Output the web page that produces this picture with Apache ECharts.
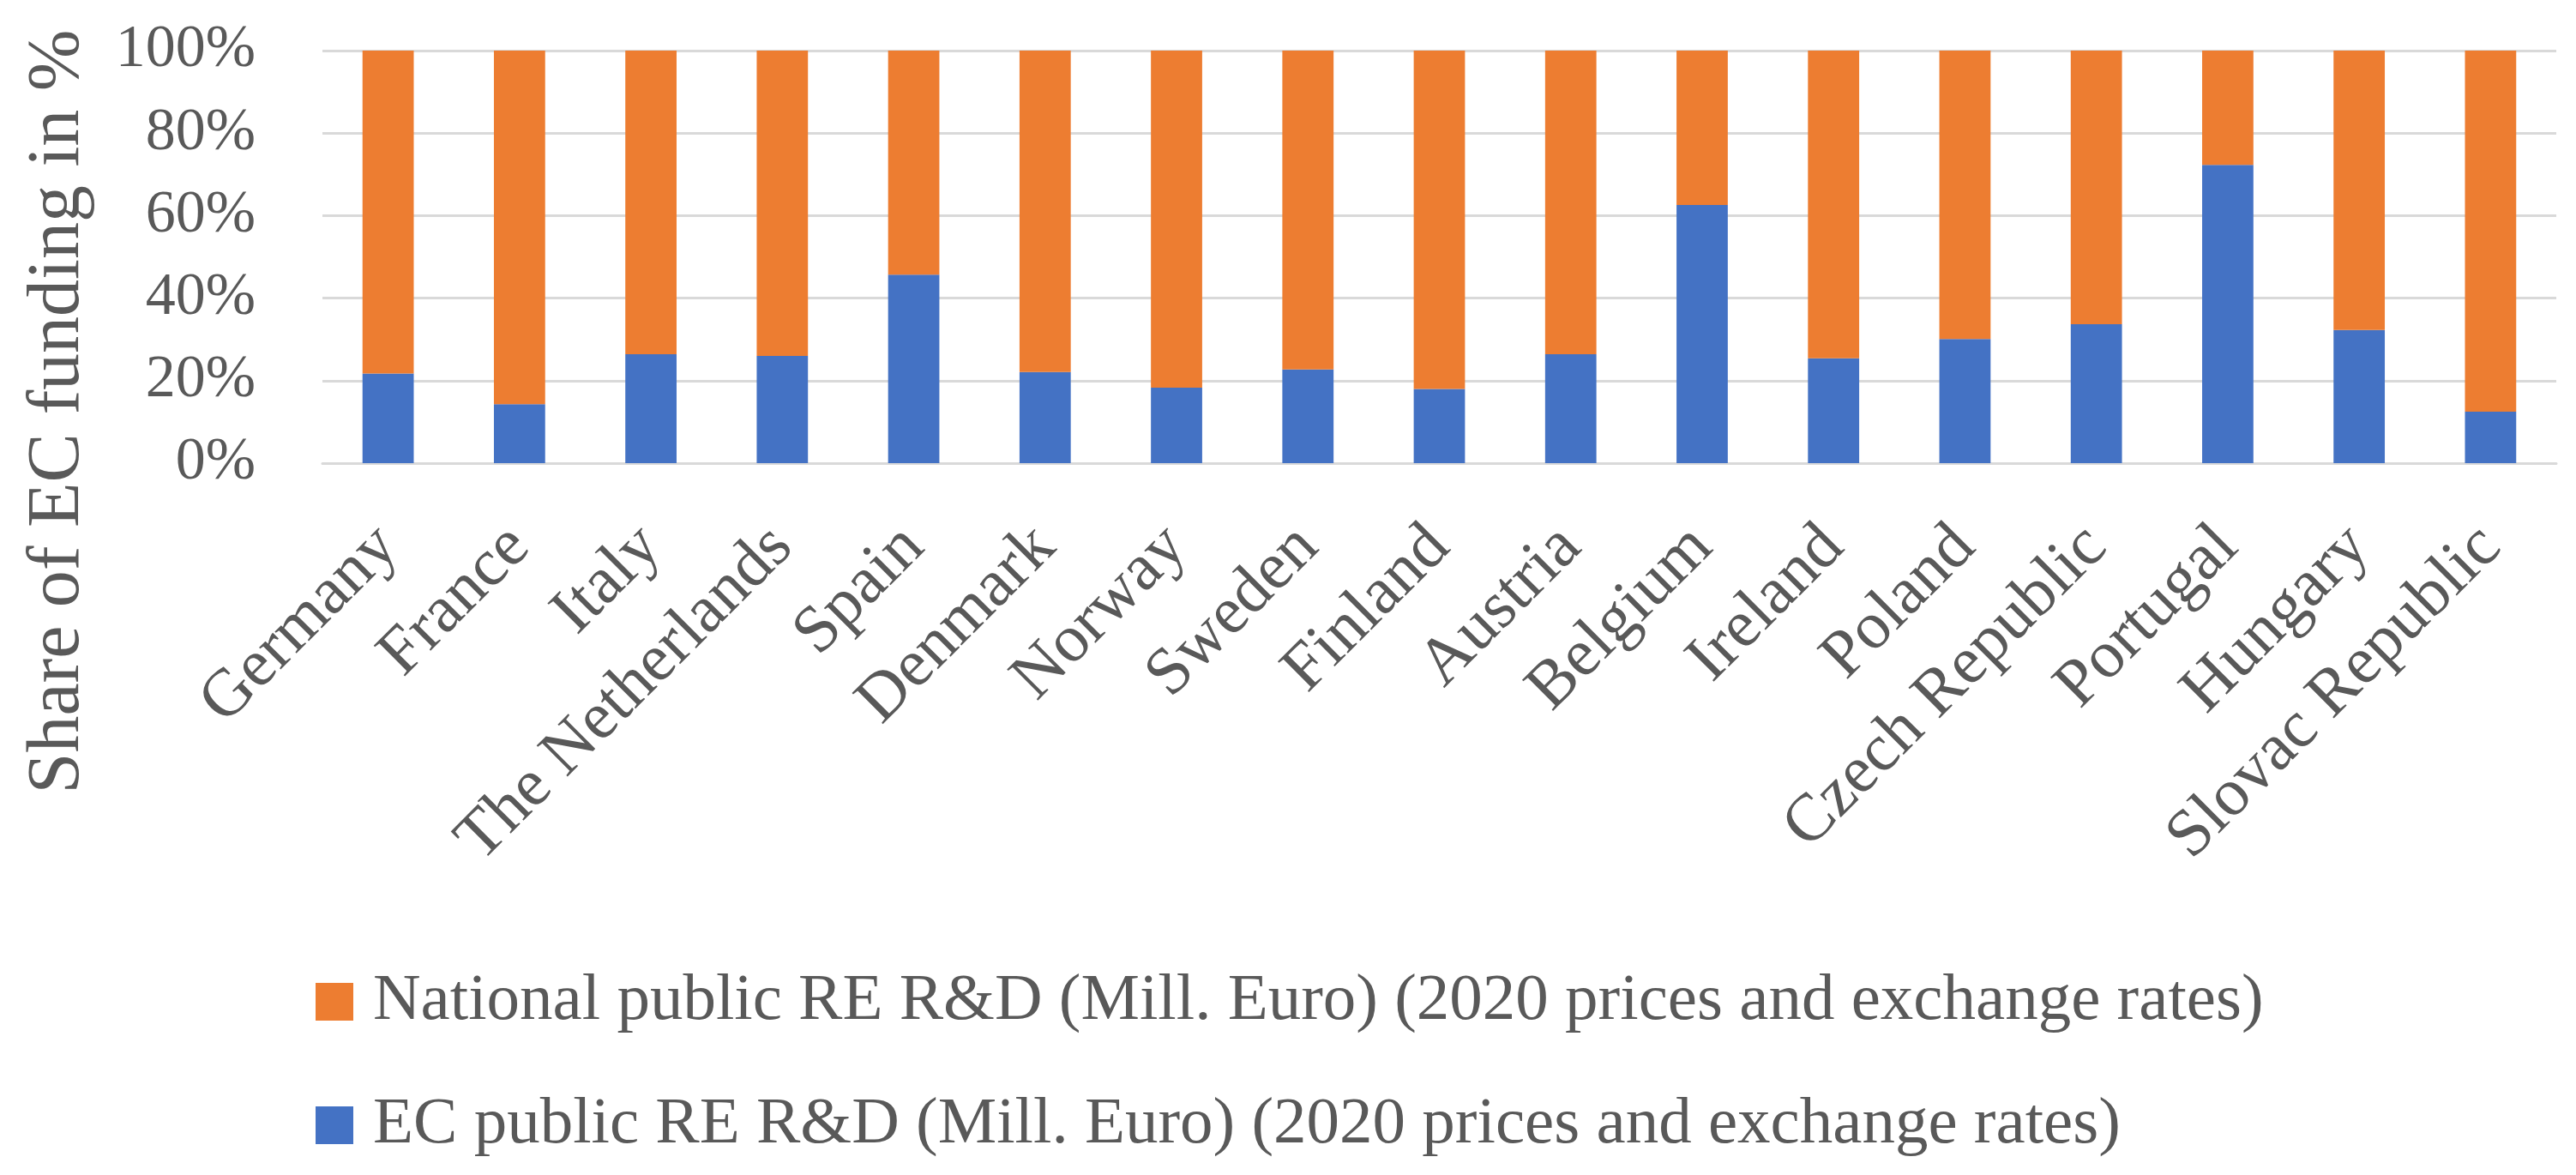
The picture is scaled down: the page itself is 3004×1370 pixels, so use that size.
<!DOCTYPE html>
<html>
<head>
<meta charset="utf-8">
<script src="https://cdn.jsdelivr.net/npm/echarts@6/dist/echarts.min.js"></script>
<style>
html,body{margin:0;padding:0;background:#fff;}
#chart{width:3004px;height:1370px;}
</style>
</head>
<body>
<div id="chart"></div>
<script>
const categories = ['Germany','France','Italy','The Netherlands','Spain','Denmark','Norway','Sweden','Finland','Austria','Belgium','Ireland','Poland','Czech Republic','Portugal','Hungary','Slovac Republic'];
const ecShare = [21.7, 14.3, 26.4, 26.0, 45.7, 22.1, 18.3, 22.7, 18.0, 26.4, 62.6, 25.4, 30.1, 33.7, 72.3, 32.3, 12.5];
const nationalShare = [78.3, 85.7, 73.6, 74.0, 54.3, 77.9, 81.7, 77.3, 82.0, 73.6, 37.4, 74.6, 69.9, 66.3, 27.7, 67.7, 87.5];
const seriesNames = ['National public RE R&D (Mill. Euro) (2020 prices and exchange rates)', 'EC public RE R&D (Mill. Euro) (2020 prices and exchange rates)'];
const yAxisTitle = 'Share of EC funding in %';

const FONT = 'Liberation Serif';
const TXT = '#595959';
const chart = echarts.init(document.getElementById('chart'));
chart.setOption({
  animation: false,
  backgroundColor: '#ffffff',
  grid: { left: 376, right: 23, top: 59, bottom: 830, containLabel: false },
  xAxis: {
    type: 'category',
    data: categories,
    axisLine: { lineStyle: { color: '#d9d9d9', width: 3 } },
    axisTick: { show: false },
    axisLabel: { rotate: 45, margin: 86, color: TXT, fontFamily: FONT, fontSize: 78, interval: 0 }
  },
  yAxis: {
    type: 'value',
    min: 0, max: 100, interval: 20,
    axisLine: { show: false },
    axisTick: { show: false },
    axisLabel: { formatter: '{value}%', margin: 78, color: TXT, fontFamily: FONT, fontSize: 70 },
    splitLine: { lineStyle: { color: '#d9d9d9', width: 3 } }
  },
  legend: {
    data: [seriesNames[0], seriesNames[1]],
    orient: 'vertical',
    left: 363,
    top: 1123,
    itemWidth: 44,
    itemHeight: 44,
    itemGap: 64,
    icon: 'rect',
    textStyle: { color: TXT, fontFamily: FONT, fontSize: 77, lineHeight: 80, padding: [0, 0, 0, 18] }
  },
  graphic: [{
    type: 'text',
    x: 68, y: 480,
    rotation: Math.PI / 2,
    style: { text: yAxisTitle, fill: TXT, font: '86px "Liberation Serif"', align: 'center', verticalAlign: 'middle' }
  }],
  series: [
    { name: seriesNames[1], type: 'bar', stack: 'total', data: ecShare, barWidth: '39%', itemStyle: { color: '#4472C4' } },
    { name: seriesNames[0], type: 'bar', stack: 'total', data: nationalShare, barWidth: '39%', itemStyle: { color: '#ED7D31' } }
  ]
});
</script>
</body>
</html>
